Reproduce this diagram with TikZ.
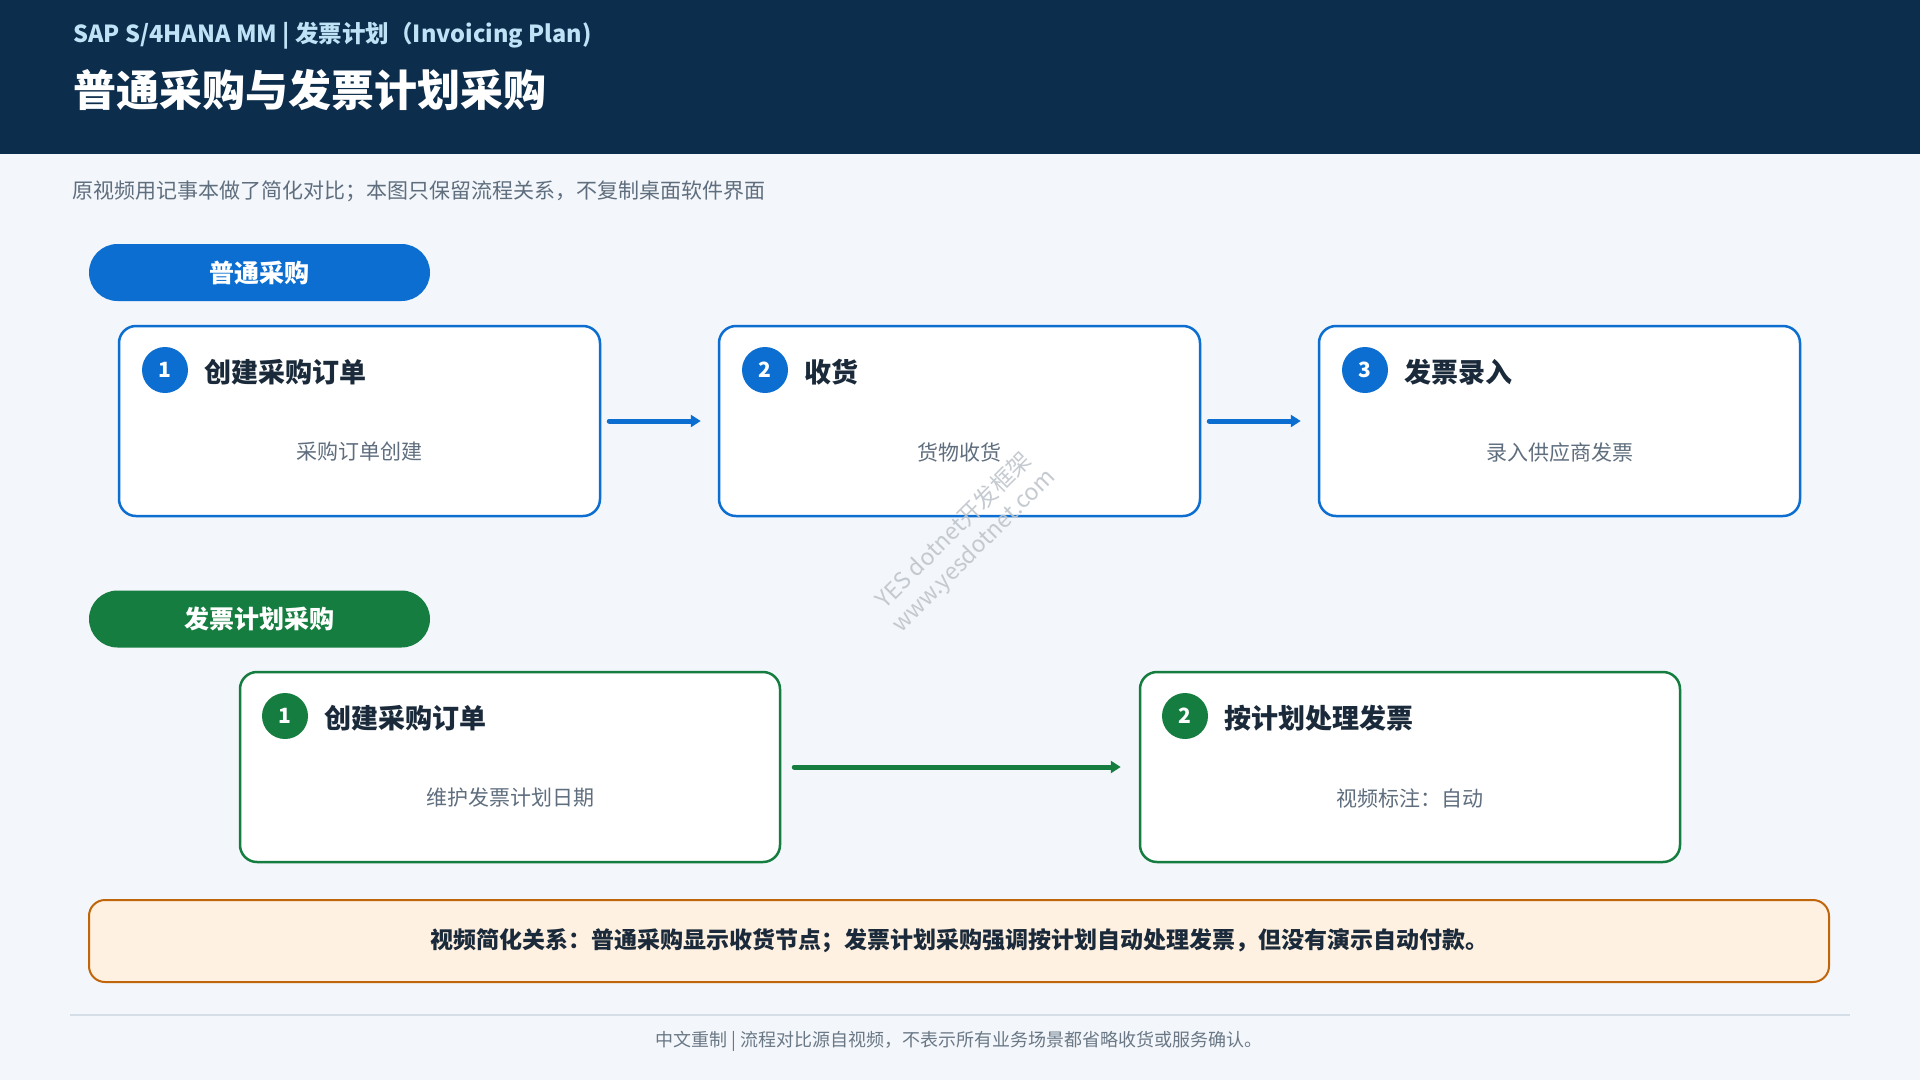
\documentclass[tikz,border=0pt]{standalone}
\usepackage{fontspec}
\setmainfont{Noto Sans CJK SC}
\usetikzlibrary{arrows.meta}
\definecolor{bgc}{HTML}{F3F6FA}
\definecolor{navy}{HTML}{0C2D4B}
\definecolor{subblue}{HTML}{BFE2F6}
\definecolor{mblue}{HTML}{0B6ED0}
\definecolor{mgreen}{HTML}{147D3F}
\definecolor{dtext}{HTML}{1B2A3A}
\definecolor{gtext}{HTML}{5F6E7E}
\definecolor{obord}{HTML}{C0650A}
\definecolor{ofill}{HTML}{FFF1E1}
\definecolor{fline}{HTML}{D5DEE6}
\definecolor{ftext}{HTML}{6A7886}
\definecolor{wmark}{HTML}{BFC5CC}
\newcommand{\fsz}[1]{\fontsize{#1}{#1}\selectfont}
\begin{document}
\begin{tikzpicture}[x=1pt,y=-1pt,
  pill/.style={fill=#1, draw=none, rounded corners=28.5pt, minimum width=341pt, minimum height=57pt, text=white, font=\fsz{25}\bfseries, inner sep=0pt},
  card/.style={draw=#1, fill=white, line width=2.5pt, rounded corners=17pt, minimum height=190pt, inner sep=0pt},
  numc/.style={circle, fill=#1, minimum size=46pt, inner sep=0pt, text=white, font=\fsz{21}\bfseries},
  ctitle/.style={anchor=west, inner sep=0pt, text=dtext, font=\fsz{27}\bfseries},
  csub/.style={inner sep=0pt, text=gtext, font=\fsz{21}},
  flow/.style={draw=#1, line width=5pt, line cap=round, -{Triangle[length=10pt,width=12pt]}},
]
\fill[bgc] (0,0) rectangle (1920,1080);
\useasboundingbox (0,0) rectangle (1920,1080);
% header
\fill[navy] (0,0) rectangle (1920,154);
\node[anchor=west, inner sep=0pt, text=subblue, font=\fsz{23.5}\bfseries] (hsub) at (73,36) {SAP S/4HANA MM | 发票计划（Invoicing Plan)};
\node[anchor=west, inner sep=0pt, text=white, font=\fsz{43}\bfseries] (htitle) at (73,90) {普通采购与发票计划采购};
\node[anchor=west, inner sep=0pt, text=gtext, font=\fsz{21}] (note) at (72,191) {原视频用记事本做了简化对比；本图只保留流程关系，不复制桌面软件界面};

% row 1
\node[pill=mblue] (p1) at (259.5,272.5) {普通采购};
\node[card=mblue, minimum width=481pt] (a1) at (359.5,421) {};
\node[card=mblue, minimum width=481pt] (a2) at (959.5,421) {};
\node[card=mblue, minimum width=481pt] (a3) at (1559.5,421) {};
\node[numc=mblue] (n1) at (165,370) {1};
\node[ctitle] (t1) at (204,372) {创建采购订单};
\node[csub] (s1) at (359.5,452) {采购订单创建};
\node[numc=mblue] (n2) at (765,370) {2};
\node[ctitle] (t2) at (804,372) {收货};
\node[csub] (s2) at (959.5,452) {货物收货};
\node[numc=mblue] (n3) at (1365,370) {3};
\node[ctitle] (t3) at (1404,372) {发票录入};
\node[csub] (s3) at (1559.5,452) {录入供应商发票};
\draw[flow=mblue, shorten <=8pt, shorten >=17pt] (a1) -- (a2);
\draw[flow=mblue, shorten <=8pt, shorten >=17pt] (a2) -- (a3);

% row 2
\node[pill=mgreen] (p2) at (259.5,619) {发票计划采购};
\node[card=mgreen, minimum width=540pt] (g1) at (510,767) {};
\node[card=mgreen, minimum width=540pt] (g2) at (1410,767) {};
\node[numc=mgreen] (m1) at (285,716) {1};
\node[ctitle] (u1) at (324,718) {创建采购订单};
\node[csub] (v1) at (510,798) {维护发票计划日期};
\node[numc=mgreen] (m2) at (1185,716) {2};
\node[ctitle] (u2) at (1224,718) {按计划处理发票};
\node[csub] (v2) at (1410,798) {视频标注：自动};
\draw[flow=mgreen, shorten <=13pt, shorten >=18pt] (g1) -- (g2);

% watermark (on top)
\node[rotate=45, inner sep=0pt, align=center, text=wmark, font=\fsz{23}, text opacity=0.9] (wm) at (964,541) {YES dotnet开发框架\\[5pt]www.yesdotnet.com};

% bottom note
\node[draw=obord, fill=ofill, line width=2pt, rounded corners=16pt, minimum width=1740pt, minimum height=82pt, inner sep=0pt, text=dtext, font=\fsz{23}\bfseries] (bn) at (959,941) {视频简化关系：普通采购显示收货节点；发票计划采购强调按计划自动处理发票，但没有演示自动付款。};

% footer
\draw[fline, line width=1.5pt] (70,1015) -- (1850,1015);
\node[inner sep=0pt, text=ftext, font=\fsz{18}] (foot) at (959,1041) {中文重制 | 流程对比源自视频，不表示所有业务场景都省略收货或服务确认。};
\end{tikzpicture}
\end{document}
